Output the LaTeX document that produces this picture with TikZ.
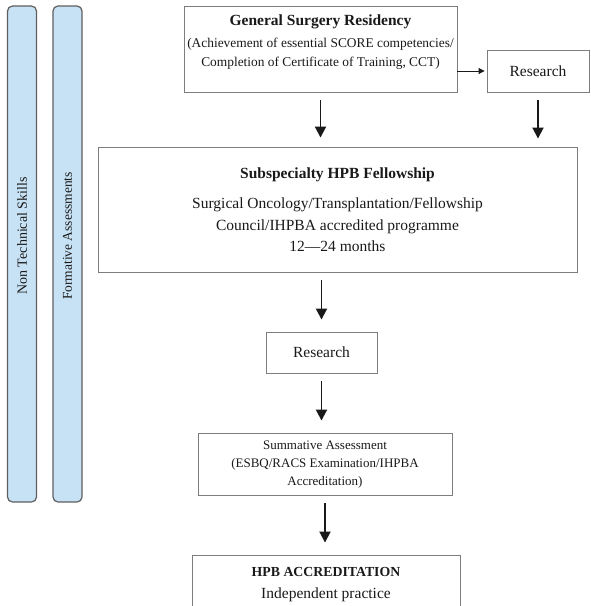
\documentclass[tikz,border=0pt]{standalone}
\usepackage{fontspec}
\setmainfont{Liberation Serif}
\usetikzlibrary{arrows.meta}
\definecolor{barblue}{RGB}{200,226,245}
\definecolor{bargrey}{RGB}{95,95,95}
\definecolor{boxgrey}{RGB}{125,125,125}
\newcommand{\fsize}[1]{\fontsize{#1}{18}\selectfont}

\begin{document}
\begin{tikzpicture}[x=1pt, y=-1pt, >={Triangle[length=11pt,width=11pt]},
  box/.style={draw=boxgrey, line width=0.9pt, inner sep=0pt},
  bar/.style={draw=bargrey, fill=barblue, rounded corners=5pt, line width=1.2pt, inner sep=0pt,
    minimum width=29pt, minimum height=496pt},
  txt/.style={text=black!90, font=\fsize{15.5}, align=center},
  flow/.style={->, line width=1.9pt, black!90, shorten <=8pt, shorten >=#1},
  flow/.default=12pt]
  \useasboundingbox (0,0) rectangle (590,606);
  \clip (0,0) rectangle (590,606);
  % side bars
  \node[bar] (nts) at (22,254) {};
  \node[bar] (form) at (67.5,254) {};
  \node[txt, font=\fsize{14}, rotate=90] (ntstext) at (22,236) {Non Technical Skills};
  \node[txt, font=\fsize{13.5}, rotate=90] (formtext) at (67.5,236) {Formative Assessments};
  % boxes
  \node[box, minimum width=273pt, minimum height=86pt] (gsr) at (320.5,49) {};
  \node[box, minimum width=102pt, minimum height=42pt] (res1) at (538,71) {};
  \node[box, minimum width=479pt, minimum height=125pt] (fell) at (337.5,209.5) {};
  \node[box, minimum width=111pt, minimum height=41pt] (res2) at (321.5,352.5) {};
  \node[box, minimum width=254pt, minimum height=62pt] (summ) at (325,464) {};
  \node[box, minimum width=268pt, minimum height=90pt] (hpb) at (326,600) {};
  % texts
  \node[txt, font=\bfseries\fsize{15.5}] (gsrtitle) at (320.5,22) {General Surgery Residency};
  \node[txt, font=\fontsize{13.4}{19}\selectfont] (gsrtext) at (320.5,54)
    {(Achievement of essential SCORE competencies/\\Completion of Certificate of Training, CCT)};
  \node[txt] (res1text) at (res1) {Research};
  \node[txt, font=\bfseries\fsize{15.5}] (felltitle) at (337.5,175) {Subspecialty HPB Fellowship};
  \node[txt, font=\fontsize{15.5}{21.5}\selectfont] (felltext) at (337.5,225)
    {Surgical Oncology/Transplantation/Fellowship\\Council/IHPBA accredited programme\\12---24 months};
  \node[txt] (res2text) at (res2) {Research};
  \node[txt, font=\fontsize{13}{18}\selectfont] (summtext) at (325,465)
    {Summative Assessment\\(ESBQ/RACS Examination/IHPBA\\Accreditation)};
  \node[txt, font=\bfseries\fsize{13.8}] (hpbtitle) at (326,572) {HPB ACCREDITATION};
  \node[txt] (hpbtext) at (326,595) {Independent practice};
  % arrows
  \draw[->, line width=0.9pt, black!90, >={Triangle[length=6pt,width=6pt]}, shorten >=2pt]
    (gsr.east |- res1.west) -- (res1.west);
  \draw[flow=9pt] (gsr.south) -- (gsr.south |- fell.north);
  \draw[flow=8pt] (res1.south) -- (res1.south |- fell.north);
  \draw[flow] (res2.north |- fell.south) -- (res2.north);
  \draw[flow] (res2.south) -- (res2.south |- summ.north);
  \draw[flow] (summ.south) -- (summ.south |- hpb.north);
\end{tikzpicture}
\end{document}
